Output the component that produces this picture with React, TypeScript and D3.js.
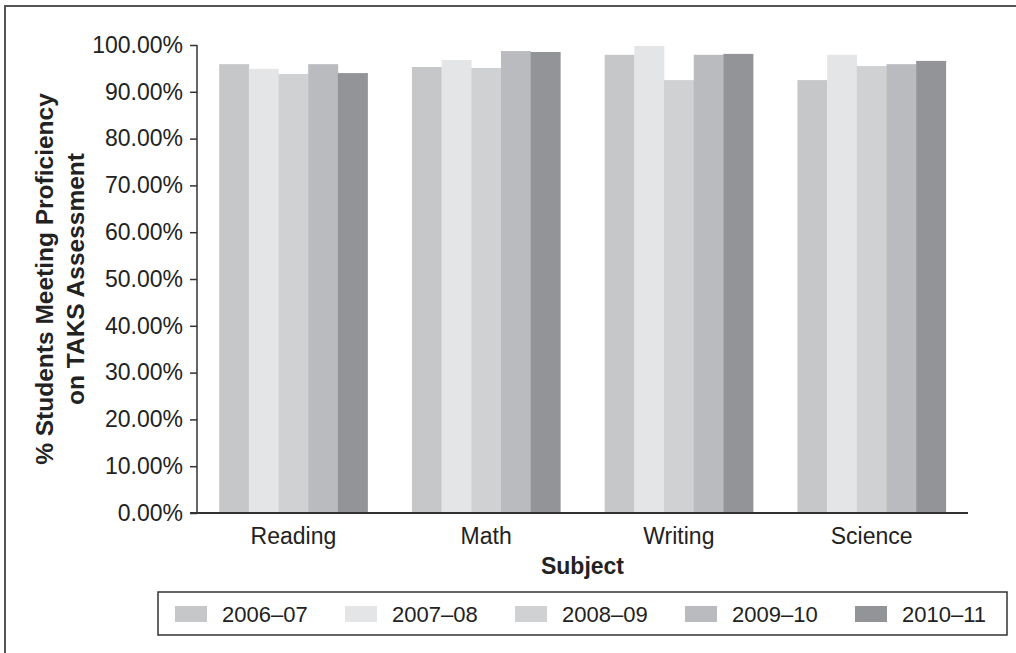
import React, {useEffect, useRef} from "react";
import * as d3 from "d3";

const subjects = ["Reading", "Math", "Writing", "Science"];
const years = ["2006–07", "2007–08", "2008–09", "2009–10", "2010–11"];
const yearColors = ["#c6c7c9", "#e4e5e7", "#d0d1d3", "#babbbf", "#939498"];
const yTicks = [0, 10, 20, 30, 40, 50, 60, 70, 80, 90, 100];

// one array per school year, in subject order
const values2006 = [95.9, 95.3, 97.9, 92.5];
const values2007 = [94.9, 96.8, 99.8, 97.9];
const values2008 = [93.8, 95.1, 92.5, 95.5];
const values2009 = [95.9, 98.7, 97.9, 95.9];
const values2010 = [94.0, 98.5, 98.1, 96.6];
const seriesValues = [values2006, values2007, values2008, values2009, values2010];

const FONT = "'Liberation Sans', Arial, Helvetica, sans-serif";

const App: React.FC = () => {
    const divRef = useRef<HTMLDivElement | null>(null);

    useEffect(() => {
        if (!divRef.current) return;
        const div = d3.select(divRef.current);
        div.selectAll("*").remove();

        const W = 1016, H = 653;
        const margin = {top: 45, right: 48, bottom: 140, left: 197};
        const width = W - margin.left - margin.right;
        const height = H - margin.top - margin.bottom;

        const svg = div.append("svg")
            .attr("width", W)
            .attr("height", H)
            .style("display", "block")
            .style("font-family", FONT);

        svg.append("rect").attr("width", W).attr("height", H).attr("fill", "#fff");
        // outer frame (only top and left edges fall inside the picture)
        svg.append("rect")
            .attr("x", 5).attr("y", 6)
            .attr("width", 1030).attr("height", 670)
            .attr("fill", "none")
            .attr("stroke", "#555")
            .attr("stroke-width", 2);

        const root = svg.append("g")
            .attr("transform", `translate(${margin.left},${margin.top})`);

        const x0 = d3.scaleBand()
            .domain(subjects)
            .range([0, width])
            .paddingInner(0.23)
            .paddingOuter(0.115);
        const x1 = d3.scaleBand()
            .domain(years)
            .range([0, x0.bandwidth()]);
        const y = d3.scaleLinear().domain([0, 100]).range([height, 0]);

        // bars
        subjects.forEach((s, si) => {
            const g = root.append("g").attr("transform", `translate(${x0(s)},0)`);
            years.forEach((yr, yi) => {
                const v = seriesValues[yi][si];
                g.append("rect")
                    .attr("x", x1(yr) as number)
                    .attr("y", y(v))
                    .attr("width", x1.bandwidth() + 0.3)
                    .attr("height", height - y(v))
                    .attr("fill", yearColors[yi]);
            });
        });

        // y axis
        const yAxis = root.append("g")
            .call(d3.axisLeft(y).tickValues(yTicks).tickSize(7).tickPadding(7)
                .tickFormat(d => `${(+d).toFixed(2)}%`));
        yAxis.select(".domain").attr("stroke", "#333").attr("stroke-width", 1.5)
            .attr("d", `M0,0V${height}`);
        yAxis.selectAll(".tick line").attr("stroke", "#333").attr("stroke-width", 1.5);
        yAxis.selectAll(".tick text")
            .attr("fill", "#222")
            .style("font-size", "23px")
            .style("font-family", FONT);

        // x axis
        const xAxis = root.append("g")
            .attr("transform", `translate(0,${height})`)
            .call(d3.axisBottom(x0).tickSize(0).tickPadding(15));
        xAxis.select(".domain").attr("stroke", "#333").attr("stroke-width", 2)
            .attr("d", `M-7,0H${width}`);
        xAxis.selectAll(".tick text")
            .attr("fill", "#222")
            .style("font-size", "23px")
            .style("font-family", FONT);

        // axis titles
        root.append("text")
            .attr("x", width / 2)
            .attr("y", height + 61)
            .attr("text-anchor", "middle")
            .attr("fill", "#222")
            .style("font-size", "23px")
            .style("font-weight", "bold")
            .text("Subject");

        const yTitle = svg.append("text")
            .attr("transform", `translate(53,${margin.top + height / 2}) rotate(-90)`)
            .attr("text-anchor", "middle")
            .attr("fill", "#222")
            .style("font-size", "24.5px")
            .style("font-weight", "bold");
        yTitle.append("tspan").attr("x", 0).attr("y", 0).text("% Students Meeting Proficiency");
        yTitle.append("tspan").attr("x", 0).attr("y", 31).text("on TAKS Assessment");

        // legend
        const legend = svg.append("g").attr("transform", "translate(158,592)");
        legend.append("rect")
            .attr("width", 849).attr("height", 43)
            .attr("fill", "#fff")
            .attr("stroke", "#333")
            .attr("stroke-width", 1.5);
        const lx = d3.scalePoint().domain(years).range([17, 697]);
        years.forEach((yr, i) => {
            const item = legend.append("g").attr("transform", `translate(${lx(yr)},0)`);
            item.append("rect")
                .attr("y", 14).attr("width", 32).attr("height", 16)
                .attr("fill", yearColors[i]);
            item.append("text")
                .attr("x", 47).attr("y", 22)
                .attr("dy", "0.36em")
                .attr("fill", "#222")
                .style("font-size", "22px")
                .text(yr);
        });
    }, []);

    return (
        <div ref={divRef} style={{position: "absolute", left: 0, top: 0}}/>
    );
};

export default App;
